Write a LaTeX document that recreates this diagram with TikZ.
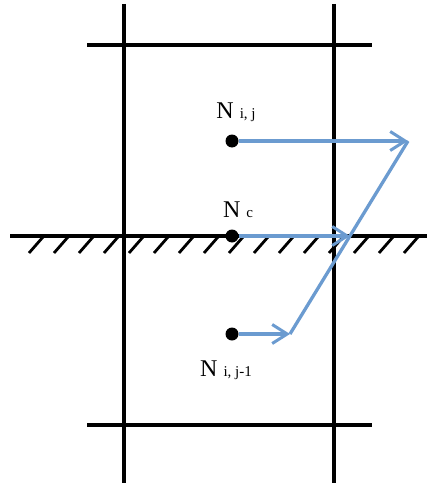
\documentclass[tikz,border=0pt]{standalone}
\usepackage{fontspec}
\setmainfont{Liberation Serif}
\usetikzlibrary{arrows.meta,positioning,calc}
\definecolor{Ink}{HTML}{000000}
\definecolor{Flow}{HTML}{6B9BD0}
\newcommand{\subtxt}[1]{{\fontsize{15}{17}\selectfont #1}}
\tikzset{
  gridline/.style={draw=Ink,line width=3.2pt},
  hatch/.style={draw=Ink,line width=2.8pt},
  pointdot/.style={circle,fill=Ink,inner sep=0pt,minimum size=13pt},
  nodelabel/.style={font=\fontsize{24}{27}\selectfont,text=Ink,inner sep=0pt},
  flow/.style={-{Straight Barb[length=15pt,width=19pt,line width=3pt]},draw=Flow,line width=3.3pt},
  flowline/.style={draw=Flow,line width=3.3pt}
}

\begin{document}
\begin{tikzpicture}[x=1pt,y=-1pt,node distance=18pt]
  \useasboundingbox (0,0) rectangle (427,487);
  % cell lines
  \draw[gridline] (124,4) -- (124,483);
  \draw[gridline] (334,4) -- (334,483);
  \draw[gridline] (87,45) -- (372,45);
  \draw[gridline] (87,425) -- (372,425);
  % wall with hatching
  \draw[gridline] (10,236) -- (427,236);
  \foreach \x in {43,68,...,418}
    \draw[hatch] (\x,237) -- ++(-14,16);
  % points
  \node[pointdot] (nij) at (232,141) {};
  \node[pointdot] (nc) at (232,236) {};
  \node[pointdot] (nijm) at (232,334) {};
  \node[nodelabel,above=of nij,xshift=4pt,yshift=-6pt] (lij) {N \subtxt{i, j}};
  \node[nodelabel,above=of nc,xshift=6pt,yshift=-7pt] (lc) {N \subtxt{c}};
  \node[nodelabel,below=of nijm,xshift=-6pt,yshift=-2pt] (lijm) {N \subtxt{i, j-1}};
  % interpolation arrows
  \coordinate (tiptop) at (408,141);
  \coordinate (tipmid) at (350,236);
  \coordinate (tipbot) at (290,334);
  \draw[flowline] (tipbot) -- (tiptop);
  \draw[flow] (nij) -- (tiptop);
  \draw[flow] (nc) -- (tipmid);
  \draw[flow] (nijm) -- (tipbot);
\end{tikzpicture}
\end{document}
